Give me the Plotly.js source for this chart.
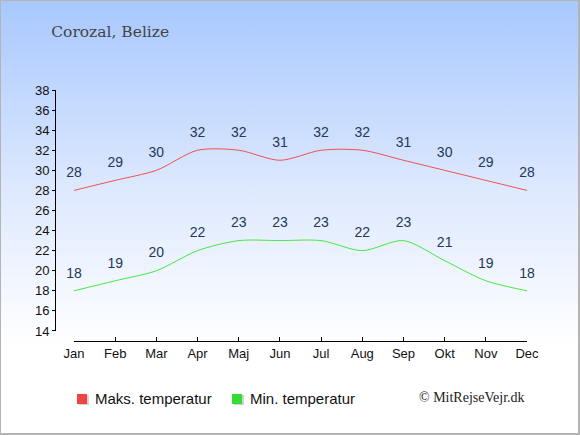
<!DOCTYPE html>
<html><head><meta charset="utf-8">
<script src="https://cdn.plot.ly/plotly-3.0.1.min.js"></script>
<style>
html,body{margin:0;padding:0;}
#wrap{width:580px;height:435px;box-sizing:border-box;border:1px solid #b4b4b4;border-bottom-width:2px;border-right-width:2px;background:linear-gradient(to bottom,#a8c8fe 0%,#dfeafe 45%,#ffffff 80%,#ffffff 100%);}
#chart{width:577px;height:432px;}
</style></head>
<body><div id="wrap"><div id="chart"></div></div>
<script>
var months = ["Jan","Feb","Mar","Apr","Maj","Jun","Jul","Aug","Sep","Okt","Nov","Dec"];
var maxTemp = [28,29,30,32,32,31,32,32,31,30,29,28];
var minTemp = [18,19,20,22,23,23,23,22,23,21,19,18];
var yTicks = [14,16,18,20,22,24,26,28,30,32,34,36,38];
var seriesNames = ["Maks. temperatur","Min. temperatur"];
var seriesColors = ["#ee4444","#33dd33"];

var labelFont = {family:"Liberation Sans, Arial, sans-serif", size:14, color:"#253858"};
var traces = [
  {x:months, y:maxTemp, mode:"lines+markers+text", text:maxTemp.map(String), textposition:"top center",
   marker:{size:14, color:"rgba(0,0,0,0)"},
   textfont:labelFont, line:{color:"#f05050", width:1, shape:"spline", smoothing:0.8}, showlegend:false, hoverinfo:"skip", cliponaxis:false},
  {x:months, y:minTemp, mode:"lines+markers+text", text:minTemp.map(String), textposition:"top center",
   marker:{size:14, color:"rgba(0,0,0,0)"},
   textfont:labelFont, line:{color:"#44e844", width:1, shape:"spline", smoothing:0.8}, showlegend:false, hoverinfo:"skip", cliponaxis:false}
];
var tickFont = {family:"Liberation Sans, Arial, sans-serif", size:13, color:"#111"};

// legend drawn as paper-positioned squares + text
var legX = [0.0466, 0.375];
var shapes = [], annotations = [];
for (var i=0;i<2;i++){
  shapes.push({type:"rect", xref:"paper", yref:"paper", x0:legX[i]+0.004, x1:legX[i]+0.0252, y0:-0.255, y1:-0.215, line:{width:0}, fillcolor:"rgba(120,120,120,0.35)"});
  shapes.push({type:"rect", xref:"paper", yref:"paper", x0:legX[i], x1:legX[i]+0.0212, y0:-0.251, y1:-0.211, line:{width:0}, fillcolor:seriesColors[i]});
  annotations.push({text:seriesNames[i], xref:"paper", yref:"paper", x:legX[i]+0.034, xanchor:"left", y:-0.231, yanchor:"middle",
    showarrow:false, font:{family:"Liberation Sans, Arial, sans-serif", size:15, color:"#111"}});
}
annotations.push({text:"© MitRejseVejr.dk", xref:"paper", yref:"paper", x:1, xanchor:"right", y:-0.225, yanchor:"middle",
    showarrow:false, font:{family:"Liberation Serif, Times New Roman, serif", size:14, color:"#222"}});

var layout = {
  width:577, height:432,
  margin:{l:54, r:51, t:89, b:92, pad:0},
  paper_bgcolor:"rgba(0,0,0,0)", plot_bgcolor:"rgba(0,0,0,0)",
  font:{family:"Liberation Sans, Arial, sans-serif"},
  xaxis:{type:"category", domain:[0.0403,1], range:[0,11], anchor:"free", position:0,
    showline:true, linecolor:"#000", linewidth:1, ticks:"inside", ticklen:4, tickcolor:"#000",
    showgrid:false, zeroline:false, tickfont:tickFont, fixedrange:true},
  yaxis:{domain:[0.04,1], range:[14,38], anchor:"free", position:0, tickvals:yTicks,
    showline:true, linecolor:"#000", linewidth:1, ticks:"outside", ticklen:3, tickcolor:"#000",
    showgrid:false, zeroline:false, tickfont:tickFont, fixedrange:true},
  title:{text:"Corozal, Belize", x:0.087, xanchor:"left", y:0.93, yanchor:"middle",
    font:{family:"DejaVu Serif, serif", size:15.5, color:"#444"}},
  showlegend:false,
  shapes:shapes,
  annotations:annotations
};
Plotly.newPlot("chart", traces, layout, {displayModeBar:false, staticPlot:true});
</script></body></html>
